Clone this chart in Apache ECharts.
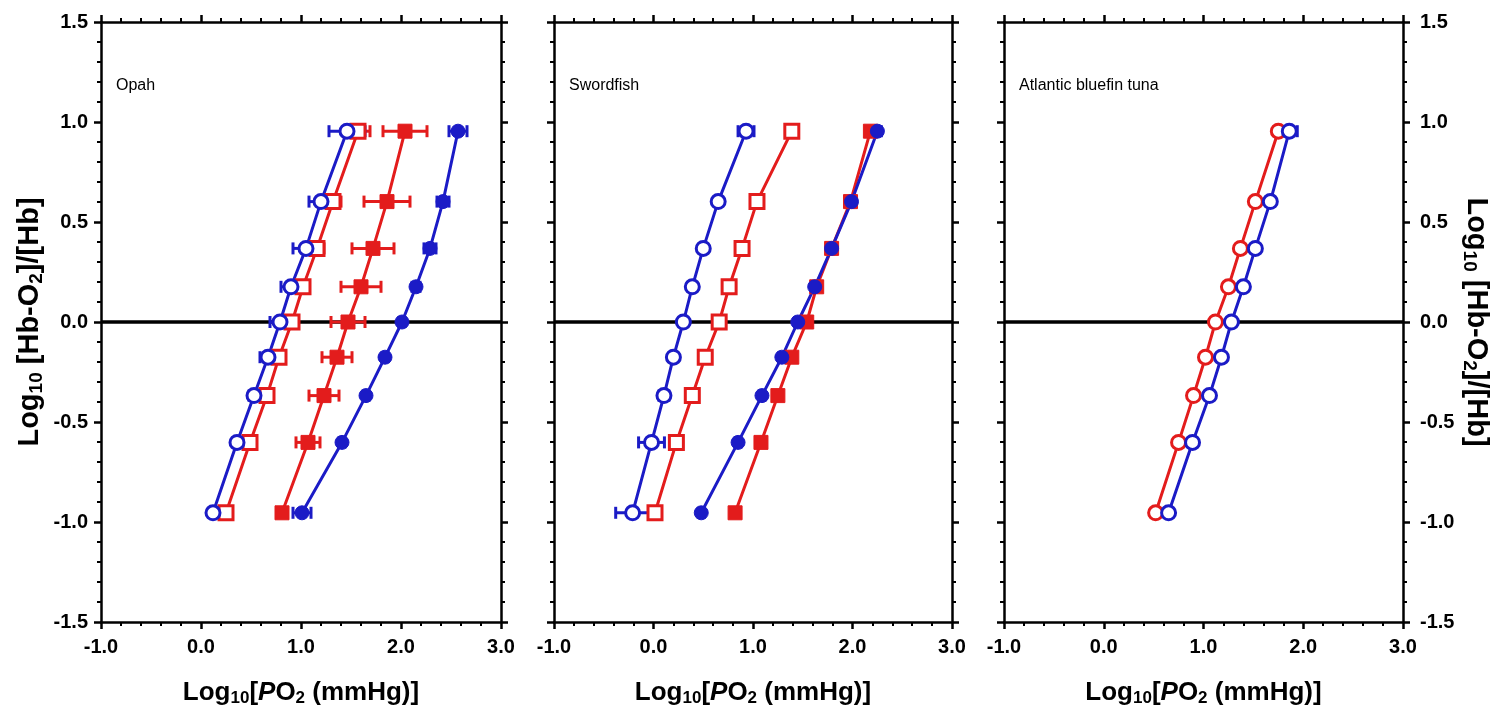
<!DOCTYPE html>
<html>
<head>
<meta charset="utf-8">
<script src="https://cdn.jsdelivr.net/npm/echarts@6/dist/echarts.min.js"></script>
<style>
  html, body { margin: 0; padding: 0; background: #fff; }
  #chart { width: 1499px; height: 714px; }
</style>
</head>
<body>
<div id="chart"></div>
<script>
// Hill plot levels: log10(S/(1-S)) for S = 10% ... 90%
const yLevels = [-0.954, -0.602, -0.368, -0.176, 0, 0.176, 0.368, 0.602, 0.954];

const panelNames = ['Opah', 'Swordfish', 'Atlantic bluefin tuna'];
const xTickRange = [-1, 3];
const yTickRange = [-1.5, 1.5];

// Opah
const opahBlueOpen = [0.12, 0.36, 0.53, 0.67, 0.79, 0.90, 1.05, 1.20, 1.46];
const opahBlueOpenErr = [0.03, 0.04, 0.05, 0.08, 0.10, 0.10, 0.13, 0.12, 0.18];
const opahRedOpen = [0.25, 0.49, 0.66, 0.78, 0.91, 1.02, 1.16, 1.32, 1.57];
const opahRedOpenErr = [0.03, 0.03, 0.04, 0.05, 0.05, 0.06, 0.07, 0.08, 0.12];
const opahRedFilled = [0.81, 1.07, 1.23, 1.36, 1.47, 1.60, 1.72, 1.86, 2.04];
const opahRedFilledErr = [0.04, 0.12, 0.15, 0.15, 0.17, 0.20, 0.21, 0.23, 0.22];
const opahBlueFilled = [1.01, 1.41, 1.65, 1.84, 2.01, 2.15, 2.29, 2.42, 2.57];
const opahBlueFilledErr = [0.09, 0.03, 0.03, 0.03, 0.03, 0.04, 0.06, 0.06, 0.09];

// Swordfish
const swBlueOpen = [-0.21, -0.02, 0.105, 0.20, 0.30, 0.39, 0.50, 0.65, 0.93];
const swBlueOpenErr = [0.17, 0.13, 0.05, 0.03, 0.03, 0.03, 0.03, 0.03, 0.08];
const swRedOpen = [0.015, 0.23, 0.39, 0.52, 0.66, 0.76, 0.89, 1.04, 1.39];
const swRedOpenErr = [0.05, 0.03, 0.03, 0.03, 0.03, 0.03, 0.03, 0.03, 0.03];
const swRedFilled = [0.82, 1.08, 1.25, 1.39, 1.54, 1.64, 1.79, 1.98, 2.18];
const swRedFilledErr = [0.03, 0.03, 0.03, 0.03, 0.03, 0.03, 0.03, 0.03, 0.03];
const swBlueFilled = [0.48, 0.85, 1.09, 1.29, 1.45, 1.62, 1.79, 1.99, 2.25];
const swBlueFilledErr = [0.03, 0.03, 0.03, 0.03, 0.03, 0.03, 0.03, 0.03, 0.04];

// Atlantic bluefin tuna
const bfRed = [0.52, 0.75, 0.90, 1.02, 1.12, 1.25, 1.37, 1.52, 1.75];
const bfRedErr = [0.03, 0.03, 0.03, 0.03, 0.03, 0.03, 0.03, 0.03, 0.04];
const bfBlue = [0.65, 0.89, 1.06, 1.18, 1.28, 1.40, 1.52, 1.67, 1.86];
const bfBlueErr = [0.03, 0.03, 0.03, 0.03, 0.03, 0.03, 0.03, 0.04, 0.08];

const BLUE = '#1b1bc6';
const RED = '#e31c1c';
const FONT = '"Liberation Sans", Arial, sans-serif';

const grids = [
  { left: 101, top: 22, width: 400, height: 600 },
  { left: 554, top: 22, width: 398, height: 600 },
  { left: 1004, top: 22, width: 399, height: 600 }
];

const lineW = 2.5;
const fmt = v => v.toFixed(1);

function richFor(size) {
  return {
    b: { fontFamily: FONT, fontSize: size, fontWeight: 'bold', color: '#000' },
    i: { fontFamily: FONT, fontSize: size, fontWeight: 'bold', fontStyle: 'italic', color: '#000' },
    s: { fontFamily: FONT, fontSize: Math.round(size * 0.66), fontWeight: 'bold', color: '#000', padding: [Math.round(size * 0.45), 0, 0, 0] }
  };
}
const xTitle = '{b|Log}{s|10}{b|[}{i|P}{b|O}{s|2}{b| (mmHg)]}';
const yTitle = '{b|Log}{s|10}{b| [Hb-O}{s|2}{b|]/[Hb]}';

function baseAxis(extra) {
  return Object.assign({
    type: 'value',
    axisLine: { show: true, onZero: false, lineStyle: { color: '#000', width: lineW } },
    axisTick: { show: true, inside: false, length: 7, lineStyle: { color: '#000', width: lineW } },
    minorTick: { show: true, splitNumber: 5, length: 4, lineStyle: { color: '#000', width: 2 } },
    splitLine: { show: false },
    minorSplitLine: { show: false }
  }, extra);
}

const tickLabel = (show, margin) => ({
  show: show, formatter: fmt, fontFamily: FONT, fontSize: 20, fontWeight: 'bold', color: '#000', margin: margin
});

const xAxes = [];
const yAxes = [];
grids.forEach((g, gi) => {
  xAxes.push(baseAxis({
    gridIndex: gi, position: 'bottom', min: xTickRange[0], max: xTickRange[1], interval: 1,
    axisLabel: tickLabel(true, 15),
    name: xTitle, nameLocation: 'middle', nameGap: 56,
    nameTextStyle: { rich: richFor(26) }
  }));
  xAxes.push(baseAxis({
    gridIndex: gi, position: 'top', min: xTickRange[0], max: xTickRange[1], interval: 1,
    axisLabel: { show: false }
  }));
  const leftY = baseAxis({
    gridIndex: gi, position: 'left', min: yTickRange[0], max: yTickRange[1], interval: 0.5,
    axisLabel: tickLabel(gi === 0, 13)
  });
  if (gi === 0) {
    Object.assign(leftY, { name: yTitle, nameLocation: 'middle', nameGap: 55, nameRotate: 90, nameTextStyle: { rich: richFor(29) } });
  }
  yAxes.push(leftY);
  const rightY = baseAxis({
    gridIndex: gi, position: 'right', min: yTickRange[0], max: yTickRange[1], interval: 0.5,
    axisLabel: tickLabel(gi === 2, 17)
  });
  if (gi === 2) {
    Object.assign(rightY, { name: yTitle, nameLocation: 'middle', nameGap: 57, nameRotate: -90, nameTextStyle: { rich: richFor(29) } });
  }
  yAxes.push(rightY);
});

function pts(xs) { return xs.map((x, i) => [x, yLevels[i]]); }

function errorBars(gi, xs, errs, color) {
  return {
    type: 'custom', xAxisIndex: gi * 2, yAxisIndex: gi * 2, z: 2, silent: true,
    data: xs.map((x, i) => [x, yLevels[i], errs[i]]),
    encode: { x: 0, y: 1 },
    renderItem: (params, api) => {
      const x = api.value(0), y = api.value(1), e = api.value(2);
      const a = api.coord([x - e, y]);
      const b = api.coord([x + e, y]);
      const cap = 6;
      const style = { stroke: color, lineWidth: 3 };
      return {
        type: 'group',
        children: [
          { type: 'line', shape: { x1: a[0], y1: a[1], x2: b[0], y2: b[1] }, style },
          { type: 'line', shape: { x1: a[0], y1: a[1] - cap, x2: a[0], y2: a[1] + cap }, style },
          { type: 'line', shape: { x1: b[0], y1: b[1] - cap, x2: b[0], y2: b[1] + cap }, style }
        ]
      };
    }
  };
}

function curve(gi, xs, color, shape, filled) {
  return {
    type: 'line', xAxisIndex: gi * 2, yAxisIndex: gi * 2, z: 3, silent: true,
    data: pts(xs),
    symbol: shape,
    symbolSize: 14,
    showSymbol: true,
    lineStyle: { color: color, width: 3 },
    itemStyle: filled
      ? { color: color, borderColor: color, borderWidth: 1 }
      : { color: '#fff', borderColor: color, borderWidth: 3 },
    emphasis: { disabled: true }
  };
}

function zeroLine(gi) {
  return {
    type: 'line', xAxisIndex: gi * 2, yAxisIndex: gi * 2, z: 1, silent: true,
    data: [[xTickRange[0], 0], [xTickRange[1], 0]],
    symbol: 'none',
    lineStyle: { color: '#000', width: 3.5 }
  };
}

const series = [
  zeroLine(0), zeroLine(1), zeroLine(2),

  errorBars(0, opahBlueFilled, opahBlueFilledErr, BLUE),
  errorBars(0, opahRedFilled, opahRedFilledErr, RED),
  errorBars(0, opahRedOpen, opahRedOpenErr, RED),
  errorBars(0, opahBlueOpen, opahBlueOpenErr, BLUE),
  curve(0, opahBlueFilled, BLUE, 'circle', true),
  curve(0, opahRedFilled, RED, 'rect', true),
  curve(0, opahRedOpen, RED, 'rect', false),
  curve(0, opahBlueOpen, BLUE, 'circle', false),

  errorBars(1, swRedFilled, swRedFilledErr, RED),
  errorBars(1, swBlueFilled, swBlueFilledErr, BLUE),
  errorBars(1, swRedOpen, swRedOpenErr, RED),
  errorBars(1, swBlueOpen, swBlueOpenErr, BLUE),
  curve(1, swRedFilled, RED, 'rect', true),
  curve(1, swBlueFilled, BLUE, 'circle', true),
  curve(1, swRedOpen, RED, 'rect', false),
  curve(1, swBlueOpen, BLUE, 'circle', false),

  errorBars(2, bfRed, bfRedErr, RED),
  errorBars(2, bfBlue, bfBlueErr, BLUE),
  curve(2, bfRed, RED, 'circle', false),
  curve(2, bfBlue, BLUE, 'circle', false)
];

const titles = grids.map((g, gi) => ({
  text: panelNames[gi],
  left: g.left + 10,
  top: 73,
  textStyle: { fontFamily: FONT, fontSize: 16, fontWeight: 'normal', color: '#000' }
}));

const chart = echarts.init(document.getElementById('chart'), null, { renderer: 'canvas' });
chart.setOption({
  animation: false,
  backgroundColor: '#fff',
  title: titles,
  grid: grids.map(g => Object.assign({ containLabel: false }, g)),
  xAxis: xAxes,
  yAxis: yAxes,
  series: series
});
</script>
</body>
</html>
